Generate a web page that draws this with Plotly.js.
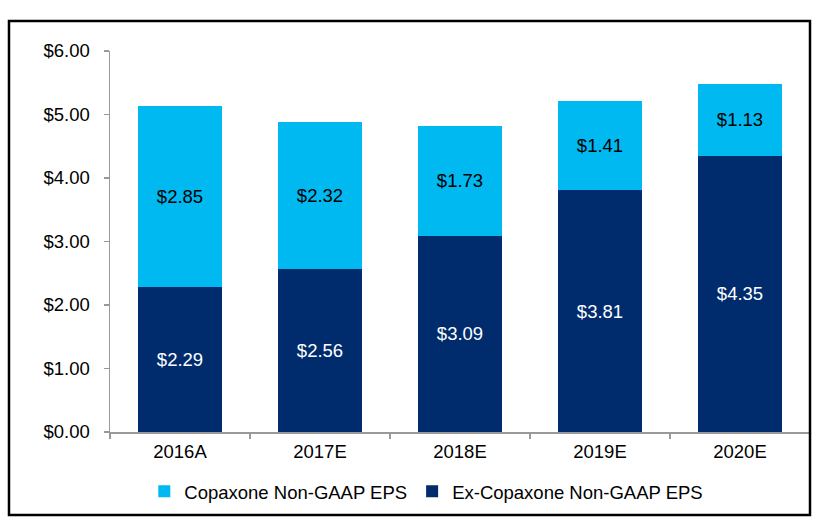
<!DOCTYPE html>
<html>
<head>
<meta charset="utf-8">
<script src="https://cdn.plot.ly/plotly-3.0.1.min.js"></script>
<style>
html,body{margin:0;padding:0;background:#fff;}
#chart{width:835px;height:527px;}
</style>
</head>
<body>
<div id="chart"></div>
<script>
var categories = ["2016A", "2017E", "2018E", "2019E", "2020E"];
var exCopaxone = [2.29, 2.56, 3.09, 3.81, 4.35];
var copaxone = [2.85, 2.32, 1.73, 1.41, 1.13];
var yTickVals = [0, 1, 2, 3, 4, 5, 6];

var FONT = "Arial, 'Liberation Sans', sans-serif";
var FS = 18.5;

var traces = [
  {
    type: "bar",
    name: "Ex-Copaxone Non-GAAP EPS",
    x: categories,
    y: exCopaxone,
    marker: {color: "#002C6E"},
    texttemplate: "$%{y:.2f}",
    textposition: "inside",
    insidetextanchor: "middle",
    textangle: 0,
    constraintext: "none",
    textfont: {family: FONT, size: FS, color: "#ffffff"},
    hoverinfo: "none"
  },
  {
    type: "bar",
    name: "Copaxone Non-GAAP EPS",
    x: categories,
    y: copaxone,
    marker: {color: "#00B9F0"},
    texttemplate: "$%{y:.2f}",
    textposition: "inside",
    insidetextanchor: "middle",
    textangle: 0,
    constraintext: "none",
    textfont: {family: FONT, size: FS, color: "#000000"},
    hoverinfo: "none"
  }
];

var layout = {
  width: 835,
  height: 527,
  margin: {l: 110, r: 25, t: 51, b: 95},
  paper_bgcolor: "#ffffff",
  plot_bgcolor: "#ffffff",
  barmode: "stack",
  bargap: 0.4,
  font: {family: FONT, size: FS, color: "#000000"},
  showlegend: true,
  legend: {
    orientation: "h",
    traceorder: "reversed",
    x: 0.049,
    xanchor: "left",
    y: -0.157,
    yanchor: "middle",
    font: {family: FONT, size: FS, color: "#000000"}
  },
  xaxis: {
    type: "category",
    showline: true,
    linecolor: "#999999",
    linewidth: 1.5,
    ticks: "outside",
    tickson: "boundaries",
    ticklen: 5,
    tickcolor: "#999999",
    tickwidth: 1.5,
    showgrid: false,
    zeroline: false,
    ticklabelstandoff: 2,
    tickfont: {family: FONT, size: FS, color: "#000000"}
  },
  yaxis: {
    range: [0, 6],
    tickvals: yTickVals,
    tickformat: "$.2f",
    showline: true,
    linecolor: "#999999",
    linewidth: 1.5,
    ticks: "outside",
    ticklen: 5,
    tickcolor: "#999999",
    tickwidth: 1.5,
    showgrid: false,
    zeroline: false,
    ticklabelstandoff: 10,
    tickfont: {family: FONT, size: FS, color: "#000000"}
  },
  shapes: [
    {
      type: "rect",
      xref: "paper",
      yref: "paper",
      x0: -0.1443,
      x1: 1.0,
      y0: -0.2178,
      y1: 1.0787,
      line: {color: "#000000", width: 2.5},
      fillcolor: "rgba(0,0,0,0)",
      layer: "above"
    }
  ]
};

Plotly.newPlot("chart", traces, layout, {staticPlot: true, displayModeBar: false});
</script>
</body>
</html>
